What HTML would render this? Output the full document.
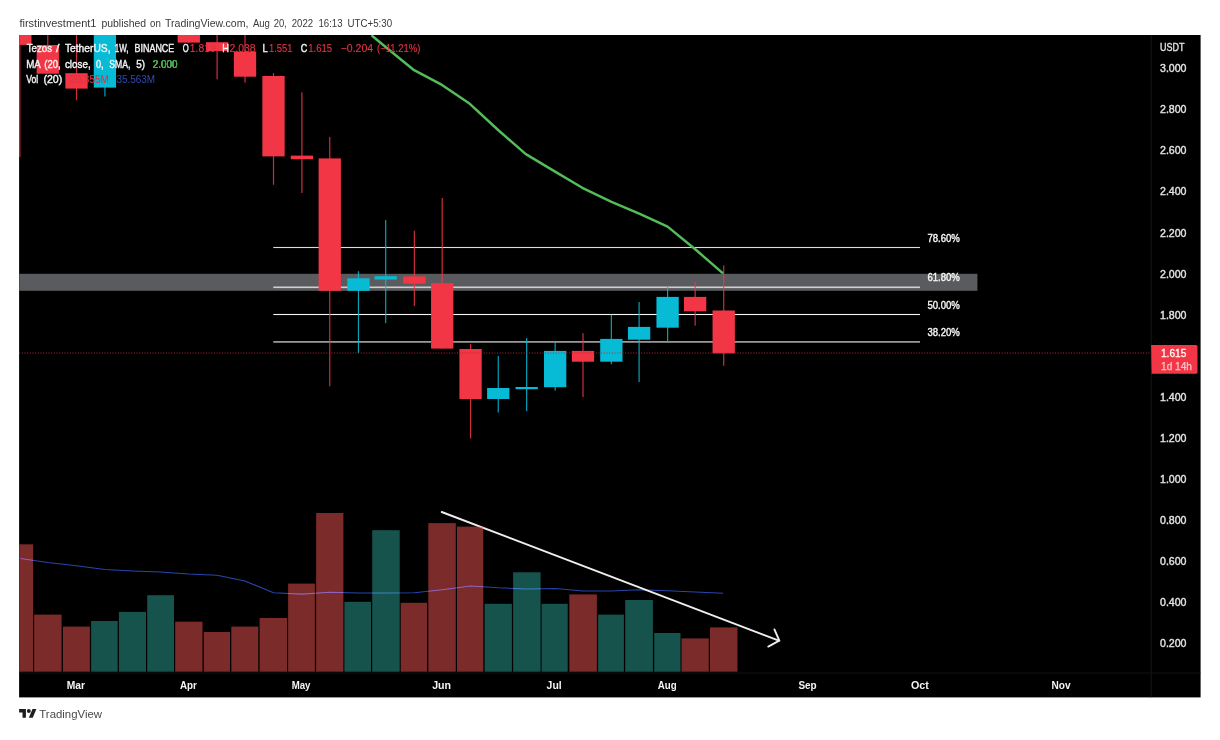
<!DOCTYPE html>
<html lang="en"><head><meta charset="utf-8"><title>XTZUSDT chart</title>
<style>
html,body{margin:0;padding:0;background:#fff;}
body{width:1220px;height:740px;overflow:hidden;position:relative;}
svg{position:absolute;left:0;top:0;display:block;}
text{font-family:"Liberation Sans","DejaVu Sans",sans-serif;font-size:11px;}
.b{font-weight:bold;stroke-width:0 !important}
.ax{fill:#e2e2e2;stroke:#e2e2e2;stroke-width:.4px}
.w{fill:#f4f4f4;stroke:#f4f4f4;stroke-width:.4px}
.r{fill:#e23341;stroke:#e23341;stroke-width:.15px}
</style></head><body>
<svg width="1220" height="740" viewBox="0 0 1220 740">
<defs><clipPath id="c"><rect x="19.1" y="35.0" width="1181.5" height="662.4"/></clipPath></defs>

<rect x="19.1" y="35.0" width="1181.5" height="662.4" fill="#000"/>
<g clip-path="url(#c)">
<rect x="1150.7" y="35.0" width="1" height="662.4" fill="#161616"/>
<rect x="19.1" y="672.5" width="1181.5" height="1" fill="#121212"/>
<rect x="19.1" y="273.8" width="958.3" height="17" fill="#5a5b5e"/>
<rect x="273.3" y="246.95" width="646.7" height="1.1" fill="#dcdcdc"/>
<rect x="273.3" y="286.50" width="646.7" height="1.6" fill="#cfcfd1"/>
<rect x="273.3" y="313.95" width="646.7" height="1.1" fill="#f4f4f4"/>
<rect x="273.3" y="341.10" width="646.7" height="1.6" fill="#a9a9a9"/>
<g stroke="#eeeeee" stroke-width="1.9" stroke-linecap="round" fill="none"><line x1="441.7" y1="512.0" x2="778.9" y2="640.6"/><polyline points="774.4,629.4 779.3,640.7 768.3,646.6" stroke-linejoin="miter"/></g>
<rect x="19.30" y="544.3" width="13.80" height="127.40" fill="#F45653" fill-opacity=".5"/>
<rect x="34.10" y="614.6" width="27.50" height="57.10" fill="#F45653" fill-opacity=".5"/>
<rect x="62.90" y="626.6" width="27.00" height="45.10" fill="#F45653" fill-opacity=".5"/>
<rect x="91.10" y="621" width="26.60" height="50.70" fill="#2EA69A" fill-opacity=".5"/>
<rect x="118.90" y="611.9" width="27.10" height="59.80" fill="#2EA69A" fill-opacity=".5"/>
<rect x="147.20" y="595.2" width="26.80" height="76.50" fill="#2EA69A" fill-opacity=".5"/>
<rect x="175.20" y="621.7" width="27.30" height="50.00" fill="#F45653" fill-opacity=".5"/>
<rect x="203.80" y="632" width="26.20" height="39.70" fill="#F45653" fill-opacity=".5"/>
<rect x="231.30" y="626.6" width="27.00" height="45.10" fill="#F45653" fill-opacity=".5"/>
<rect x="259.60" y="618" width="27.50" height="53.70" fill="#F45653" fill-opacity=".5"/>
<rect x="288.10" y="583.6" width="26.80" height="88.10" fill="#F45653" fill-opacity=".5"/>
<rect x="316.10" y="513" width="27.30" height="158.70" fill="#F45653" fill-opacity=".5"/>
<rect x="344.40" y="601.8" width="26.60" height="69.90" fill="#2EA69A" fill-opacity=".5"/>
<rect x="372.20" y="530.2" width="27.50" height="141.50" fill="#2EA69A" fill-opacity=".5"/>
<rect x="400.70" y="602.8" width="26.30" height="68.90" fill="#F45653" fill-opacity=".5"/>
<rect x="428.30" y="523.1" width="27.50" height="148.60" fill="#F45653" fill-opacity=".5"/>
<rect x="457.00" y="526.6" width="26.30" height="145.10" fill="#F45653" fill-opacity=".5"/>
<rect x="484.60" y="603.8" width="27.30" height="67.90" fill="#2EA69A" fill-opacity=".5"/>
<rect x="513.10" y="572.3" width="27.50" height="99.40" fill="#2EA69A" fill-opacity=".5"/>
<rect x="541.60" y="603.8" width="26.10" height="67.90" fill="#2EA69A" fill-opacity=".5"/>
<rect x="569.30" y="594.4" width="27.60" height="77.30" fill="#F45653" fill-opacity=".5"/>
<rect x="598.10" y="614.6" width="25.80" height="57.10" fill="#2EA69A" fill-opacity=".5"/>
<rect x="625.20" y="600" width="27.70" height="71.70" fill="#2EA69A" fill-opacity=".5"/>
<rect x="654.20" y="633" width="26.30" height="38.70" fill="#2EA69A" fill-opacity=".5"/>
<rect x="681.50" y="638.4" width="27.30" height="33.30" fill="#F45653" fill-opacity=".5"/>
<rect x="710.00" y="627.4" width="27.50" height="44.30" fill="#F45653" fill-opacity=".5"/>
<polyline points="20.4,558.5 47.8,562.5 76.5,565.7 104.9,569.5 132.4,571.0 160.6,572.0 188.8,574.0 217.1,575.2 245.0,581.0 273.5,592.7 301.9,594.1 329.8,592.2 358.4,593.0 385.7,593.0 414.4,592.7 442.2,589.7 470.6,586.0 498.2,587.8 526.6,589.0 555.1,588.5 583.0,591.0 611.4,591.0 639.1,589.7 667.6,590.7 695.1,592.0 723.0,593.2" fill="none" stroke="#2846ae" stroke-width="1.15" stroke-linejoin="round" style="mix-blend-mode:screen"/>
<rect x="19.2" y="30" width="1.2" height="127" fill="#F23645" opacity="0.85"/><rect x="19.1" y="30" width="12.4" height="14.9" fill="#F23645"/>
<rect x="47.20" y="30" width="1.2" height="43.70" fill="#F23645" opacity="0.85"/>
<rect x="36.65" y="45" width="22.3" height="28.70" fill="#F23645"/>
<rect x="75.90" y="30" width="1.2" height="70.30" fill="#F23645" opacity="0.85"/>
<rect x="65.35" y="73.2" width="22.3" height="15.40" fill="#F23645"/>
<rect x="104.30" y="30" width="1.2" height="66.50" fill="#07BBD6" opacity="0.85"/>
<rect x="93.75" y="30" width="22.3" height="57.60" fill="#07BBD6"/>
<rect x="188.20" y="30" width="1.2" height="12.60" fill="#F23645" opacity="0.85"/>
<rect x="177.65" y="30" width="22.3" height="12.60" fill="#F23645"/>
<rect x="216.50" y="30" width="1.2" height="49.30" fill="#F23645" opacity="0.85"/>
<rect x="205.95" y="42.2" width="22.3" height="8.80" fill="#F23645"/>
<rect x="244.40" y="30" width="1.2" height="52.60" fill="#F23645" opacity="0.85"/>
<rect x="233.85" y="51.5" width="22.3" height="25.20" fill="#F23645"/>
<rect x="272.90" y="73" width="1.2" height="111.80" fill="#F23645" opacity="0.85"/>
<rect x="262.35" y="76" width="22.3" height="80.40" fill="#F23645"/>
<rect x="301.30" y="92.3" width="1.2" height="100.70" fill="#F23645" opacity="0.85"/>
<rect x="290.75" y="155.6" width="22.3" height="3.60" fill="#F23645"/>
<rect x="329.15" y="137" width="1.2" height="249.20" fill="#F23645" opacity="0.85"/>
<rect x="318.60" y="158.4" width="22.3" height="132.40" fill="#F23645"/>
<rect x="357.85" y="271.2" width="1.2" height="81.80" fill="#07BBD6" opacity="0.85"/>
<rect x="347.30" y="278.3" width="22.3" height="12.50" fill="#07BBD6"/>
<rect x="385.10" y="220" width="1.2" height="103.10" fill="#07BBD6" opacity="0.85"/>
<rect x="374.55" y="276.2" width="22.3" height="3.30" fill="#07BBD6"/>
<rect x="413.75" y="230.7" width="1.2" height="75.20" fill="#F23645" opacity="0.85"/>
<rect x="403.20" y="276.4" width="22.3" height="7.20" fill="#F23645"/>
<rect x="441.60" y="198" width="1.2" height="150.60" fill="#F23645" opacity="0.85"/>
<rect x="431.05" y="283.1" width="22.3" height="65.50" fill="#F23645"/>
<rect x="469.95" y="344.1" width="1.2" height="94.30" fill="#F23645" opacity="0.85"/>
<rect x="459.40" y="349" width="22.3" height="50.00" fill="#F23645"/>
<rect x="497.65" y="356" width="1.2" height="56.50" fill="#07BBD6" opacity="0.85"/>
<rect x="487.10" y="388" width="22.3" height="11.00" fill="#07BBD6"/>
<rect x="526.05" y="338" width="1.2" height="73.30" fill="#07BBD6" opacity="0.85"/>
<rect x="515.50" y="387" width="22.3" height="2.20" fill="#07BBD6"/>
<rect x="554.55" y="342.1" width="1.2" height="48.50" fill="#07BBD6" opacity="0.85"/>
<rect x="544.00" y="350.9" width="22.3" height="36.30" fill="#07BBD6"/>
<rect x="582.40" y="333.2" width="1.2" height="63.90" fill="#F23645" opacity="0.85"/>
<rect x="571.85" y="350.9" width="22.3" height="10.80" fill="#F23645"/>
<rect x="610.75" y="314.6" width="1.2" height="49.60" fill="#07BBD6" opacity="0.85"/>
<rect x="600.20" y="338.9" width="22.3" height="22.80" fill="#07BBD6"/>
<rect x="638.50" y="302" width="1.2" height="80.00" fill="#07BBD6" opacity="0.85"/>
<rect x="627.95" y="326.9" width="22.3" height="12.80" fill="#07BBD6"/>
<rect x="667.00" y="286.4" width="1.2" height="55.90" fill="#07BBD6" opacity="0.85"/>
<rect x="656.45" y="296.9" width="22.3" height="30.80" fill="#07BBD6"/>
<rect x="694.55" y="281.8" width="1.2" height="43.90" fill="#F23645" opacity="0.85"/>
<rect x="684.00" y="296.9" width="22.3" height="14.40" fill="#F23645"/>
<rect x="723.10" y="265.4" width="1.2" height="100.40" fill="#F23645" opacity="0.85"/>
<rect x="712.55" y="310.5" width="22.3" height="42.90" fill="#F23645"/>
<polyline points="371.5,35.2 385.9,47.3 414.1,70.2 442.0,84.9 469.8,103.8 498.7,130.5 525.8,154.1 555.1,171.6 582.3,187.8 611.5,201.8 639.8,213.8 667.6,226.6 695.5,249.5 723,273.4" fill="none" stroke="#53BD5A" stroke-width="2.45" stroke-linejoin="round"/>
<line x1="19.1" y1="353" x2="1151" y2="353" stroke="#b82a38" stroke-width="1" stroke-dasharray="1 1.67"/>
<path d="M1151.1 345h44.9a1.5 1.5 0 0 1 1.5 1.5v25.8a1.5 1.5 0 0 1 -1.5 1.5h-44.4z" fill="#F23645"/>
</g>
<text x="19.4" y="27.3" textLength="77.1" lengthAdjust="spacingAndGlyphs" fill="#3a3a3a">firstinvestment1</text>
<text x="101.4" y="27.3" textLength="44.7" lengthAdjust="spacingAndGlyphs" fill="#3a3a3a">published</text>
<text x="150.1" y="27.3" textLength="10.8" lengthAdjust="spacingAndGlyphs" fill="#3a3a3a">on</text>
<text x="165.0" y="27.3" textLength="83.4" lengthAdjust="spacingAndGlyphs" fill="#3a3a3a">TradingView.com,</text>
<text x="252.9" y="27.3" textLength="17.0" lengthAdjust="spacingAndGlyphs" fill="#3a3a3a">Aug</text>
<text x="273.8" y="27.3" textLength="13.1" lengthAdjust="spacingAndGlyphs" fill="#3a3a3a">20,</text>
<text x="291.8" y="27.3" textLength="21.3" lengthAdjust="spacingAndGlyphs" fill="#3a3a3a">2022</text>
<text x="318.4" y="27.3" textLength="24.2" lengthAdjust="spacingAndGlyphs" fill="#3a3a3a">16:13</text>
<text x="347.5" y="27.3" textLength="44.6" lengthAdjust="spacingAndGlyphs" fill="#3a3a3a">UTC+5:30</text>
<text x="26.7" y="52.0" textLength="25.3" lengthAdjust="spacingAndGlyphs" class="w">Tezos</text>
<text x="56.0" y="52.0" textLength="3.4" lengthAdjust="spacingAndGlyphs" class="w">/</text>
<text x="64.9" y="52.0" textLength="45.6" lengthAdjust="spacingAndGlyphs" class="w">TetherUS,</text>
<text x="114.8" y="52.0" textLength="13.8" lengthAdjust="spacingAndGlyphs" class="w">1W,</text>
<text x="134.6" y="52.0" textLength="39.6" lengthAdjust="spacingAndGlyphs" class="w">BINANCE</text>
<text x="182.8" y="52.0" textLength="6.0" lengthAdjust="spacingAndGlyphs" class="w">O</text>
<text x="189.8" y="52.0" textLength="25.9" lengthAdjust="spacingAndGlyphs" class="r">1.819</text>
<text x="222.2" y="52.0" textLength="6.7" lengthAdjust="spacingAndGlyphs" class="w">H</text>
<text x="229.5" y="52.0" textLength="26.2" lengthAdjust="spacingAndGlyphs" class="r">2.038</text>
<text x="262.6" y="52.0" textLength="5.3" lengthAdjust="spacingAndGlyphs" class="w">L</text>
<text x="268.9" y="52.0" textLength="23.6" lengthAdjust="spacingAndGlyphs" class="r">1.551</text>
<text x="300.7" y="52.0" textLength="6.5" lengthAdjust="spacingAndGlyphs" class="w">C</text>
<text x="308.2" y="52.0" textLength="24.0" lengthAdjust="spacingAndGlyphs" class="r">1.615</text>
<text x="340.7" y="52.0" textLength="32.4" lengthAdjust="spacingAndGlyphs" class="r">−0.204</text>
<text x="377.1" y="52.0" textLength="43.2" lengthAdjust="spacingAndGlyphs" class="r">(−11.21%)</text>
<text x="26.2" y="67.7" textLength="14.6" lengthAdjust="spacingAndGlyphs" class="w">MA</text>
<text x="152.7" y="67.7" textLength="24.9" lengthAdjust="spacingAndGlyphs" fill="#4aa84e">2.000</text>
<text x="44.3" y="67.7" textLength="16.3" lengthAdjust="spacingAndGlyphs" class="w">(20,</text>
<text x="152.7" y="67.7" textLength="24.9" lengthAdjust="spacingAndGlyphs" fill="#4aa84e">2.000</text>
<text x="64.9" y="67.7" textLength="25.8" lengthAdjust="spacingAndGlyphs" class="w">close,</text>
<text x="152.7" y="67.7" textLength="24.9" lengthAdjust="spacingAndGlyphs" fill="#4aa84e">2.000</text>
<text x="95.9" y="67.7" textLength="7.7" lengthAdjust="spacingAndGlyphs" class="w">0,</text>
<text x="152.7" y="67.7" textLength="24.9" lengthAdjust="spacingAndGlyphs" fill="#4aa84e">2.000</text>
<text x="109.3" y="67.7" textLength="21.0" lengthAdjust="spacingAndGlyphs" class="w">SMA,</text>
<text x="152.7" y="67.7" textLength="24.9" lengthAdjust="spacingAndGlyphs" fill="#4aa84e">2.000</text>
<text x="136.3" y="67.7" textLength="8.7" lengthAdjust="spacingAndGlyphs" class="w">5)</text>
<text x="152.7" y="67.7" textLength="24.9" lengthAdjust="spacingAndGlyphs" fill="#4aa84e">2.000</text>
<text x="26.2" y="82.8" textLength="12.0" lengthAdjust="spacingAndGlyphs" class="w">Vol</text>
<text x="43.4" y="82.8" textLength="18.9" lengthAdjust="spacingAndGlyphs" class="w">(20)</text>
<text x="70.0" y="82.8" textLength="38.8" lengthAdjust="spacingAndGlyphs" class="r">20.355M</text>
<text x="116.6" y="82.8" textLength="38.5" lengthAdjust="spacingAndGlyphs" fill="#3049b8">35.563M</text>
<text x="927.4" y="242.1" textLength="32.5" lengthAdjust="spacingAndGlyphs" class="w">78.60%</text>
<text x="927.4" y="281.2" textLength="32.5" lengthAdjust="spacingAndGlyphs" class="w">61.80%</text>
<text x="927.4" y="308.5" textLength="32.5" lengthAdjust="spacingAndGlyphs" class="w">50.00%</text>
<text x="927.4" y="335.8" textLength="32.5" lengthAdjust="spacingAndGlyphs" class="w">38.20%</text>
<text x="1160.0" y="51.0" textLength="24.4" lengthAdjust="spacingAndGlyphs" class="ax">USDT</text>
<text x="1160.0" y="72.2" textLength="26.5" lengthAdjust="spacingAndGlyphs" class="ax">3.000</text>
<text x="1160.0" y="113.3" textLength="26.5" lengthAdjust="spacingAndGlyphs" class="ax">2.800</text>
<text x="1160.0" y="154.4" textLength="26.5" lengthAdjust="spacingAndGlyphs" class="ax">2.600</text>
<text x="1160.0" y="195.4" textLength="26.5" lengthAdjust="spacingAndGlyphs" class="ax">2.400</text>
<text x="1160.0" y="236.5" textLength="26.5" lengthAdjust="spacingAndGlyphs" class="ax">2.200</text>
<text x="1160.0" y="277.6" textLength="26.5" lengthAdjust="spacingAndGlyphs" class="ax">2.000</text>
<text x="1160.0" y="318.7" textLength="26.5" lengthAdjust="spacingAndGlyphs" class="ax">1.800</text>
<text x="1160.0" y="400.8" textLength="26.5" lengthAdjust="spacingAndGlyphs" class="ax">1.400</text>
<text x="1160.0" y="441.9" textLength="26.5" lengthAdjust="spacingAndGlyphs" class="ax">1.200</text>
<text x="1160.0" y="483.0" textLength="26.5" lengthAdjust="spacingAndGlyphs" class="ax">1.000</text>
<text x="1160.0" y="524.1" textLength="26.5" lengthAdjust="spacingAndGlyphs" class="ax">0.800</text>
<text x="1160.0" y="565.2" textLength="26.5" lengthAdjust="spacingAndGlyphs" class="ax">0.600</text>
<text x="1160.0" y="606.2" textLength="26.5" lengthAdjust="spacingAndGlyphs" class="ax">0.400</text>
<text x="1160.0" y="647.3" textLength="26.5" lengthAdjust="spacingAndGlyphs" class="ax">0.200</text>
<text x="1161.0" y="356.5" textLength="25.3" lengthAdjust="spacingAndGlyphs" fill="#fff" stroke="#fff" stroke-width=".3">1.615</text>
<text x="1161.0" y="369.8" textLength="31.0" lengthAdjust="spacingAndGlyphs" fill="#fbc4c9" stroke="#fbc4c9" stroke-width=".25">1d 14h</text>
<text x="66.8" y="688.8" textLength="18.3" lengthAdjust="spacingAndGlyphs" class="b w">Mar</text>
<text x="179.9" y="688.8" textLength="16.9" lengthAdjust="spacingAndGlyphs" class="b w">Apr</text>
<text x="291.7" y="688.8" textLength="18.8" lengthAdjust="spacingAndGlyphs" class="b w">May</text>
<text x="432.2" y="688.8" textLength="18.9" lengthAdjust="spacingAndGlyphs" class="b w">Jun</text>
<text x="546.6" y="688.8" textLength="15.1" lengthAdjust="spacingAndGlyphs" class="b w">Jul</text>
<text x="657.8" y="688.8" textLength="18.9" lengthAdjust="spacingAndGlyphs" class="b w">Aug</text>
<text x="798.4" y="688.8" textLength="18.3" lengthAdjust="spacingAndGlyphs" class="b w">Sep</text>
<text x="911.0" y="688.8" textLength="17.9" lengthAdjust="spacingAndGlyphs" class="b w">Oct</text>
<text x="1051.5" y="688.8" textLength="19.1" lengthAdjust="spacingAndGlyphs" class="b w">Nov</text>
<g transform="translate(19.1,707.15) scale(0.487)" fill="#1e1e1e"><path d="M14 22H7V11H0V4h14v18zM28 22h-8l7.5-18h8L28 22z"/><circle cx="20" cy="8" r="4"/></g>
<text x="39.3" y="717.7" textLength="62.7" lengthAdjust="spacingAndGlyphs" fill="#4a4a4a">TradingView</text>
</svg></body></html>
